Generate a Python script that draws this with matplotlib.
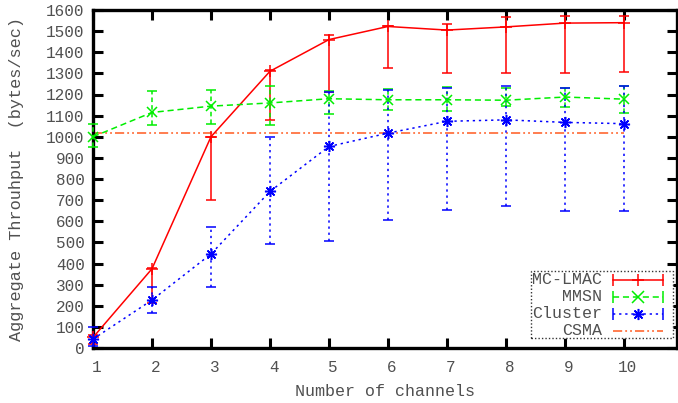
import matplotlib
matplotlib.use("Agg")
import matplotlib.pyplot as plt
import matplotlib.transforms as mtransforms
from matplotlib.patches import Rectangle
from matplotlib.lines import Line2D

channels = [1, 2, 3, 4, 5, 6, 7, 8, 9, 10]

mclmac = [50, 375, 1000, 1310, 1460, 1522, 1505, 1520, 1538, 1540]
mclmac_lo = [20, 212, 700, 1080, 1212, 1325, 1302, 1303, 1303, 1308]
mclmac_hi = [60, 380, 1000, 1316, 1480, 1525, 1533, 1567, 1570, 1572]

mmsn = [1000, 1115, 1145, 1160, 1180, 1175, 1175, 1173, 1188, 1178]
mmsn_lo = [952, 1054, 1060, 1057, 1107, 1128, 1123, 1147, 1143, 1112]
mmsn_hi = [1060, 1218, 1223, 1238, 1215, 1226, 1234, 1230, 1230, 1242]

cluster = [42, 227, 445, 741, 954, 1017, 1073, 1080, 1068, 1062]
cluster_lo = [10, 166, 290, 491, 507, 607, 654, 673, 649, 649]
cluster_hi = [100, 290, 575, 1001, 1213, 1223, 1230, 1238, 1230, 1242]

csma = [1020] * 10

series_names = ["MC-LMAC", "MMSN", "Cluster", "CSMA"]

FONT = "Liberation Mono"
TXT = "#505050"
plt.rcParams["font.family"] = [FONT, "DejaVu Sans Mono"]

W, H = 678, 403
fig = plt.figure(figsize=(W / 100, H / 100), dpi=100)
ax = fig.add_axes([93 / W, 1 - 348 / H, (677 - 93) / W, (348 - 10) / H])

star = (8, 2, 0)
styles = [
    dict(color="#ff0000", ls="-", marker="+", dash=None, ms=8),
    dict(color="#00ee00", ls=(0, (4, 2.5)), marker="x", dash=(0, (3, 2)), ms=7),
    dict(color="#0000ff", ls=(0, (1.5, 2.5)), marker=star, dash=(0, (1.5, 2.5)), ms=8),
]
data = [(mclmac, mclmac_lo, mclmac_hi), (mmsn, mmsn_lo, mmsn_hi),
        (cluster, cluster_lo, cluster_hi)]

for (vals, lo, hi), st in zip(data, styles):
    yerr = [[v - l for v, l in zip(vals, lo)], [h - v for v, h in zip(vals, hi)]]
    cont = ax.errorbar(channels, vals, yerr=yerr, color=st["color"], ls=st["ls"],
                       lw=1.1, marker=st["marker"], ms=st["ms"], mew=1.1,
                       capsize=3.5, capthick=1.1, elinewidth=1.1, zorder=3,
                       clip_on=False)
    if st["dash"] is not None:
        for bl in cont[2]:
            bl.set_linestyle(st["dash"])

ax.plot(channels, csma, color="#ff5a1f", lw=1.1, ls=(0, (6, 2, 1.2, 2, 1.2, 2)),
        zorder=2)

ax.set_xlim(1, 10.9)
ax.set_ylim(0, 1600)
ax.set_xticks(channels)
ax.set_yticks(range(0, 1601, 100))
for sp in ax.spines.values():
    sp.set_linewidth(2.4)
ax.tick_params(direction="in", length=7, width=2.2, top=True, right=True,
               labelsize=11.5, labelcolor=TXT, pad=6)
ax.tick_params(axis="x", pad=9)
shift = mtransforms.ScaledTranslation(4 / 100, 0, fig.dpi_scale_trans)
for lbl in ax.get_xticklabels():
    lbl.set_transform(lbl.get_transform() + shift)

ax.set_xlabel("Number of channels", fontsize=12, color=TXT, labelpad=6)
ax.set_ylabel("Aggregate Throuhput  (bytes/sec)", fontsize=12.2, color=TXT,
              labelpad=16)

# key box in the lower right corner
tf = fig.transFigure
def fx(px):
    return px / W
def fy(py):
    return 1 - py / H

box = Rectangle((fx(531), fy(338)), fx(673) - fx(531), fy(271) - fy(338),
                transform=tf, fill=True, facecolor="white", edgecolor="#333333",
                lw=1.0, ls=(0, (1, 1.5)), zorder=10)
fig.add_artist(box)

row_y = [279.5, 296.5, 313.5, 330.5]
key_styles = [
    ("#ff0000", "-", "+"),
    ("#00ee00", (0, (4, 2.5)), "x"),
    ("#0000ff", (0, (1.5, 2.5)), star),
    ("#ff5a1f", (0, (6, 2, 1.2, 2, 1.2, 2)), None),
]
for name, py, (col, ls, mk) in zip(series_names, row_y, key_styles):
    fig.text(fx(602), fy(py), name, ha="right", va="center", fontsize=12,
             color=TXT, zorder=11)
    x0, x1 = fx(613), fx(663)
    fig.add_artist(Line2D([x0, x1], [fy(py), fy(py)], transform=tf, color=col,
                          ls=ls, lw=1.1, zorder=11))
    if mk is not None:
        fig.add_artist(Line2D([x0, x1], [fy(py), fy(py)], transform=tf, color=col,
                              ls="none", marker="|", ms=8, mew=1.1, zorder=11))
        fig.add_artist(Line2D([(x0 + x1) / 2], [fy(py)], transform=tf, color=col,
                              ls="none", marker=mk, ms=8, mew=1.1, zorder=11))

fig.savefig("out.png", dpi=100)
